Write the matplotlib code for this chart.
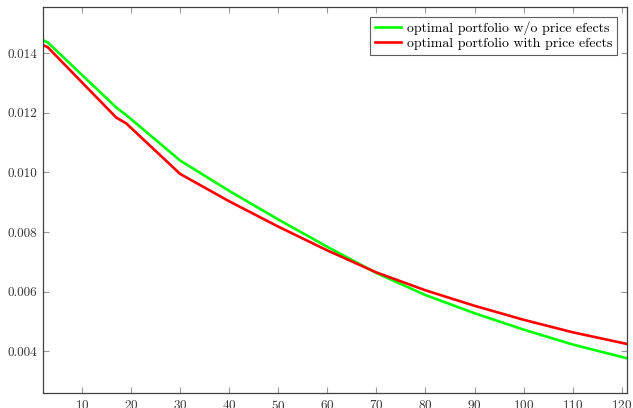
import matplotlib
matplotlib.use("Agg")
import matplotlib.pyplot as plt

# maturity grid and the two volatility curves
horizon = [2, 3, 17, 19, 30, 40, 50, 60, 70, 80, 90, 100, 110, 121]
no_price_effects = [0.01445, 0.01437, 0.01218, 0.01193, 0.01040, 0.00938, 0.00842,
                    0.00750, 0.00662, 0.00588, 0.00527, 0.00472, 0.00422, 0.00376]
with_price_effects = [0.01428, 0.01421, 0.01184, 0.01165, 0.00995, 0.00903, 0.00818,
                      0.00738, 0.00664, 0.00604, 0.00552, 0.00505, 0.00463, 0.00424]
labels = ["optimal portfolio w/o price efects", "optimal portfolio with price efects"]

plt.rcParams["font.family"] = ["cmr10", "DejaVu Serif"]
plt.rcParams["axes.formatter.use_mathtext"] = True

fig = plt.figure(figsize=(6.33, 4.08), dpi=100)
ax = fig.add_axes([0.0675, 0.036, 0.9225, 0.947])

ax.plot(horizon, no_price_effects, color="#00ff00", lw=1.9, label=labels[0])
ax.plot(horizon, with_price_effects, color="#ff0000", lw=1.9, label=labels[1])

ax.set_xlim(2, 121)
ax.set_ylim(0.00258, 0.01556)
ax.set_xticks(range(10, 121, 10))
ax.set_yticks([0.004, 0.006, 0.008, 0.010, 0.012, 0.014])
ax.set_yticklabels(["0.004", "0.006", "0.008", "0.010", "0.012", "0.014"])

for s in ax.spines.values():
    s.set_color("#404040")
    s.set_linewidth(0.9)
ax.tick_params(direction="in", length=4, width=0.8, color="#999999",
               top=True, right=True, labelsize=9.5, labelcolor="#333333", pad=4)

leg = ax.legend(loc="upper right", fontsize=10, frameon=True, fancybox=False,
                edgecolor="#333333", handlelength=1.9, borderpad=0.35,
                labelspacing=0.15, handletextpad=0.4, borderaxespad=0.7)
leg.get_frame().set_linewidth(0.8)

fig.savefig("out.png", dpi=100)
